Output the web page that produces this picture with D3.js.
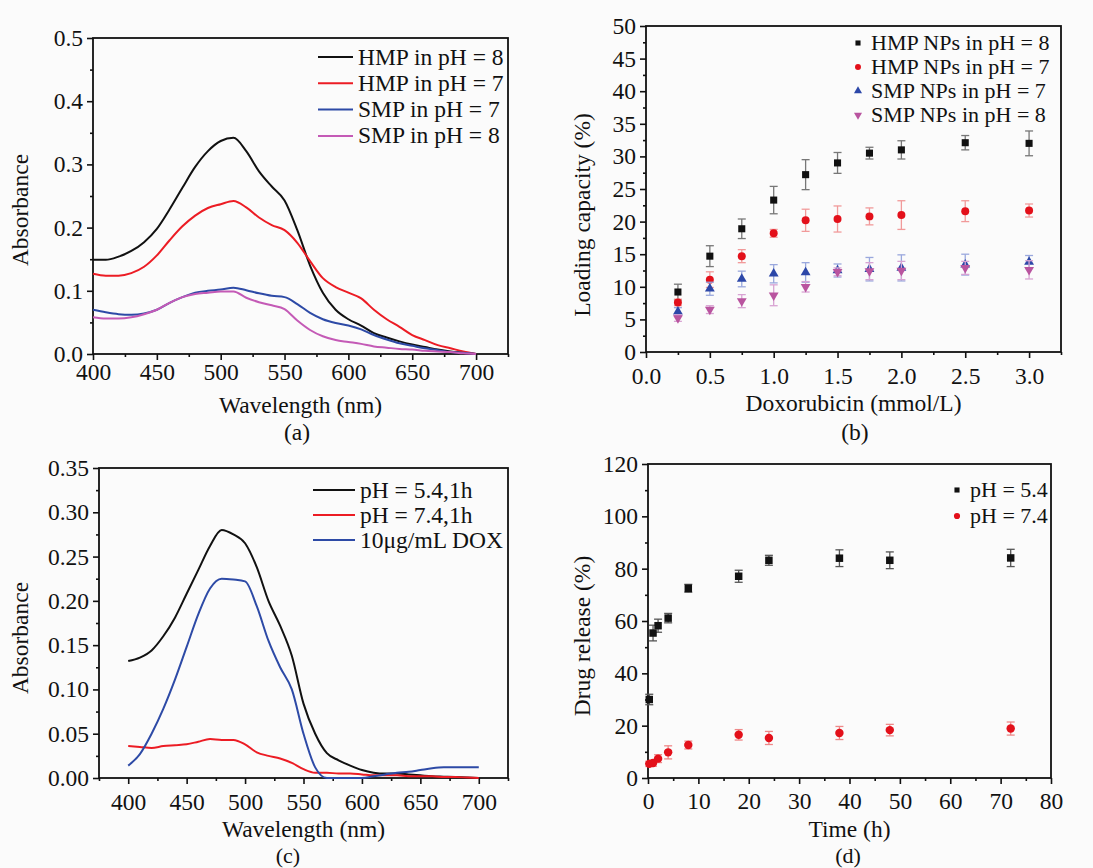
<!DOCTYPE html>
<html>
<head>
<meta charset="utf-8">
<script src="https://cdn.jsdelivr.net/npm/d3@7/dist/d3.min.js"></script>
<style>
  body { margin: 0; background: #fbfbfb; }
  svg { display: block; }
</style>
</head>
<body>
<svg id="chart" width="1093" height="868"></svg>
<script>
// ---- (a) UV-vis of HMP / SMP ----
const waveA = [400,410,420,430,440,450,460,470,480,490,500,510,520,530,540,550,560,570,580,590,600,610,620,630,640,650,660,670,680,690,700];
const absHmpPh8 = [0.149,0.149,0.154,0.163,0.177,0.198,0.229,0.263,0.296,0.321,0.337,0.342,0.321,0.289,0.265,0.243,0.196,0.140,0.097,0.070,0.055,0.045,0.033,0.026,0.020,0.015,0.011,0.007,0.004,0.002,0.000];
const absHmpPh7 = [0.127,0.124,0.124,0.128,0.138,0.156,0.180,0.202,0.219,0.231,0.237,0.242,0.232,0.216,0.204,0.196,0.176,0.147,0.120,0.106,0.097,0.088,0.070,0.055,0.043,0.030,0.022,0.014,0.009,0.004,0.000];
const absSmpPh7 = [0.070,0.066,0.063,0.062,0.064,0.070,0.081,0.090,0.097,0.100,0.102,0.105,0.101,0.096,0.092,0.090,0.079,0.065,0.055,0.049,0.045,0.039,0.030,0.023,0.017,0.013,0.009,0.006,0.003,0.002,0.000];
const absSmpPh8 = [0.058,0.056,0.056,0.058,0.063,0.070,0.081,0.090,0.095,0.097,0.099,0.099,0.089,0.082,0.077,0.071,0.053,0.038,0.028,0.022,0.019,0.016,0.012,0.010,0.008,0.007,0.005,0.004,0.003,0.001,0.000];
const legendA = ["HMP in pH = 8", "HMP in pH = 7", "SMP in pH = 7", "SMP in pH = 8"];
const xTicksA = [400,450,500,550,600,650,700];
const yTicksA = [0,0.1,0.2,0.3,0.4,0.5];

// ---- (b) loading capacity ----
const doxConc = [0.25,0.5,0.75,1,1.25,1.5,1.75,2,2.5,3];
const loadHmpPh8 = [9.2,14.7,18.9,23.3,27.2,29.0,30.5,31.0,32.1,32.0];
const errHmpPh8 = [1.2,1.6,1.5,2.1,2.3,1.6,0.9,1.4,1.1,1.9];
const loadHmpPh7 = [7.6,11.1,14.7,18.2,20.2,20.4,20.8,21.0,21.6,21.7];
const errHmpPh7 = [0.5,1.2,1.0,0.6,1.7,2.0,1.3,2.2,1.6,1.0];
const loadSmpPh7 = [6.2,9.7,11.2,12.0,12.2,12.5,12.7,12.9,13.4,13.8];
const errSmpPh7 = [0.6,1.0,1.2,1.4,1.5,1.0,1.8,2.0,1.6,1.0];
const loadSmpPh8 = [5.2,6.5,7.8,8.7,10.0,12.3,12.4,12.5,12.9,12.6];
const errSmpPh8 = [0.5,0.6,1.0,1.6,0.8,0.6,1.3,1.4,1.0,1.4];
const legendB = ["HMP NPs in pH = 8", "HMP NPs in pH = 7", "SMP NPs in pH = 7", "SMP NPs in pH = 8"];
const xTicksB = [0,0.5,1,1.5,2,2.5,3];
const yTicksB = [0,5,10,15,20,25,30,35,40,45,50];

// ---- (c) release spectra ----
const waveC = [400,410,420,430,440,450,460,470,480,490,500,510,520,530,540,550,560,570,580,590,600,610,620,630,640,650,660,670,680,690,700];
const absPh54 = [0.132,0.136,0.144,0.160,0.181,0.208,0.235,0.262,0.280,0.275,0.265,0.238,0.200,0.172,0.138,0.084,0.050,0.028,0.020,0.014,0.009,0.006,0.005,0.005,0.004,0.003,0.002,0.0015,0.001,0.0005,0.000];
const absPh74 = [0.036,0.035,0.034,0.036,0.037,0.038,0.041,0.044,0.043,0.043,0.038,0.029,0.025,0.022,0.017,0.010,0.006,0.006,0.005,0.005,0.004,0.003,0.003,0.003,0.002,0.002,0.002,0.001,0.001,0.0005,0.000];
const absDox = [0.014,0.027,0.050,0.078,0.111,0.148,0.185,0.214,0.225,0.224,0.222,0.194,0.155,0.125,0.100,0.050,0.012,0.000,0.000,0.000,0.000,0.002,0.004,0.006,0.007,0.009,0.011,0.012,0.012,0.012,0.012];
const legendC = ["pH = 5.4,1h", "pH = 7.4,1h", "10\u03bcg/mL DOX"];
const xTicksC = [400,450,500,550,600,650,700];
const yTicksC = [0,0.05,0.10,0.15,0.20,0.25,0.30,0.35];

// ---- (d) drug release ----
const timeH = [0.25,1,2,4,8,18,24,38,48,72];
const releasePh54 = [30.0,55.4,58.2,61.1,72.5,77.1,83.2,84.0,83.2,84.1];
const errPh54 = [2.0,3.0,2.5,1.8,1.5,2.3,1.9,3.2,3.2,3.3];
const releasePh74 = [5.4,5.7,7.4,9.8,12.6,16.5,15.3,17.2,18.3,18.9];
const errPh74 = [1.0,1.2,1.5,2.5,1.5,2.0,2.5,2.5,2.2,2.5];
const legendD = ["pH = 5.4", "pH = 7.4"];
const xTicksD = [0,10,20,30,40,50,60,70,80];
const yTicksD = [0,20,40,60,80,100,120];

const fontFamily = "'Liberation Serif', 'Times New Roman', serif";
const fontSize = 23.5;
const svg = d3.select("#chart");

// minor ticks sit halfway between majors, inside the domain
function minorTicks(major, domain) {
    const step = major[1] - major[0];
    const out = [];
    for (let v = major[0] - step / 2; v <= domain[1] + 1e-9; v += step) {
        if (v >= domain[0] - 1e-9) out.push(v);
    }
    return out;
}

function styleAxis(sel) {
    sel.select(".domain").remove();
    sel.selectAll("line").attr("stroke", "#111").attr("stroke-width", 1.6);
    sel.selectAll("text")
        .attr("font-family", fontFamily)
        .attr("font-size", fontSize)
        .attr("fill", "#111");
}

function drawPanel(box, opts) {
    const x = d3.scaleLinear().domain(opts.xDomain).range([box.left, box.right]);
    const y = d3.scaleLinear().domain(opts.yDomain).range([box.bottom, box.top]);
    const g = svg.append("g");

    g.append("g")
        .attr("transform", `translate(0,${box.bottom})`)
        .call(d3.axisBottom(x).tickValues(minorTicks(opts.xTicks, opts.xDomain)).tickSize(3).tickFormat(""))
        .call(styleAxis);
    g.append("g")
        .attr("transform", `translate(0,${box.bottom})`)
        .call(d3.axisBottom(x).tickValues(opts.xTicks).tickSize(6).tickPadding(opts.xPad).tickFormat(d3.format(opts.xFmt)))
        .call(styleAxis);
    g.append("g")
        .attr("transform", `translate(${box.left},0)`)
        .call(d3.axisLeft(y).tickValues(minorTicks(opts.yTicks, opts.yDomain)).tickSize(3).tickFormat(""))
        .call(styleAxis);
    g.append("g")
        .attr("transform", `translate(${box.left},0)`)
        .call(d3.axisLeft(y).tickValues(opts.yTicks).tickSize(6).tickPadding(4).tickFormat(d3.format(opts.yFmt)))
        .call(styleAxis);

    // box frame
    g.append("rect")
        .attr("x", box.left)
        .attr("y", box.top)
        .attr("width", box.right - box.left)
        .attr("height", box.bottom - box.top)
        .attr("fill", "none")
        .attr("stroke", "#111")
        .attr("stroke-width", 1.8);

    // axis titles and panel letter
    g.append("text")
        .attr("x", (box.left + box.right) / 2)
        .attr("y", opts.xTitleY)
        .attr("text-anchor", "middle")
        .attr("font-family", fontFamily)
        .attr("font-size", fontSize)
        .attr("fill", "#111")
        .text(opts.xTitle);
    g.append("text")
        .attr("transform", `translate(${opts.yTitleX},${opts.yTitleCy}) rotate(-90)`)
        .attr("text-anchor", "middle")
        .attr("font-family", fontFamily)
        .attr("font-size", fontSize)
        .attr("fill", "#111")
        .text(opts.yTitle);
    g.append("text")
        .attr("x", opts.tagX)
        .attr("y", opts.tagY)
        .attr("text-anchor", "middle")
        .attr("font-family", fontFamily)
        .attr("font-size", opts.tagSize || fontSize)
        .attr("fill", "#111")
        .text(opts.tag);

    return { g, x, y };
}

function drawLines(panel, xs, series, colors) {
    const line = d3.line()
        .x((d, i) => panel.x(xs[i]))
        .y(d => panel.y(d))
        .curve(d3.curveMonotoneX);
    series.forEach((s, k) => {
        panel.g.append("path")
            .attr("d", line(s))
            .attr("fill", "none")
            .attr("stroke", colors[k])
            .attr("stroke-width", 2);
    });
}

function drawLineLegend(panel, labels, colors, x0, y0, step, len) {
    labels.forEach((label, k) => {
        const yy = y0 + k * step;
        panel.g.append("line")
            .attr("x1", x0).attr("x2", x0 + len)
            .attr("y1", yy).attr("y2", yy)
            .attr("stroke", colors[k])
            .attr("stroke-width", 2);
        panel.g.append("text")
            .attr("x", x0 + len + 5)
            .attr("y", yy + 7.5)
            .attr("font-family", fontFamily)
            .attr("font-size", fontSize)
            .attr("fill", "#111")
            .text(label);
    });
}

function symbolPath(type, size) {
    return d3.symbol().type(type).size(size)();
}

function drawScatter(panel, xs, values, errors, style) {
    const grp = panel.g.append("g");
    const cap = 4;
    values.forEach((v, i) => {
        const px = panel.x(xs[i]);
        const lo = panel.y(v - errors[i]);
        const hi = panel.y(v + errors[i]);
        grp.append("line").attr("x1", px).attr("x2", px).attr("y1", lo).attr("y2", hi)
            .attr("stroke", style.errColor).attr("stroke-width", 1.3);
        grp.append("line").attr("x1", px - cap).attr("x2", px + cap).attr("y1", lo).attr("y2", lo)
            .attr("stroke", style.errColor).attr("stroke-width", 1.3);
        grp.append("line").attr("x1", px - cap).attr("x2", px + cap).attr("y1", hi).attr("y2", hi)
            .attr("stroke", style.errColor).attr("stroke-width", 1.3);
    });
    values.forEach((v, i) => {
        grp.append("path")
            .attr("d", symbolPath(style.type, style.size))
            .attr("transform", `translate(${panel.x(xs[i])},${panel.y(v)}) rotate(${style.rotate || 0})`)
            .attr("fill", style.color);
    });
}

function drawMarkerLegend(panel, labels, styles, x0, y0, step, size) {
    labels.forEach((label, k) => {
        const yy = y0 + k * step;
        panel.g.append("path")
            .attr("d", symbolPath(styles[k].type, styles[k].legendSize))
            .attr("transform", `translate(${x0},${yy}) rotate(${styles[k].rotate || 0})`)
            .attr("fill", styles[k].color);
        panel.g.append("text")
            .attr("x", x0 + 13)
            .attr("y", yy + 7)
            .attr("font-family", fontFamily)
            .attr("font-size", size)
            .attr("fill", "#111")
            .text(label);
    });
}

const lineColors = ["#111111", "#ec1c24", "#2d4aa6", "#c45ab6"];

// (a)
const panelA = drawPanel({ left: 93, right: 508, top: 38, bottom: 354 }, {
    xDomain: [400, 725], yDomain: [0, 0.5],
    xTicks: xTicksA, yTicks: yTicksA, xFmt: "d", yFmt: ".1f", xPad: 3,
    xTitle: "Wavelength (nm)", xTitleY: 413,
    yTitle: "Absorbance", yTitleX: 28, yTitleCy: 210,
    tag: "(a)", tagX: 297, tagY: 440
});
drawLines(panelA, waveA, [absHmpPh8, absHmpPh7, absSmpPh7, absSmpPh8], lineColors);
drawLineLegend(panelA, legendA, lineColors, 318, 57, 26.3, 35);

// (b)
const stylesB = [
    { type: d3.symbolSquare, size: 50, legendSize: 26, color: "#111111", errColor: "#777777" },
    { type: d3.symbolCircle, size: 50, legendSize: 28, color: "#e3101a", errColor: "#f19a9a" },
    { type: d3.symbolTriangle, size: 42, legendSize: 28, color: "#2c47a8", errColor: "#9aa8dd" },
    { type: d3.symbolTriangle, size: 42, legendSize: 28, color: "#b9549f", errColor: "#d8a3d3", rotate: 180 }
];
const panelB = drawPanel({ left: 646, right: 1061, top: 26, bottom: 352 }, {
    xDomain: [0, 3.25], yDomain: [0, 50],
    xTicks: xTicksB, yTicks: yTicksB, xFmt: ".1f", yFmt: "d", xPad: 9,
    xTitle: "Doxorubicin (mmol/L)", xTitleY: 411,
    yTitle: "Loading capacity (%)", yTitleX: 590, yTitleCy: 215,
    tag: "(b)", tagX: 855, tagY: 440
});
drawScatter(panelB, doxConc, loadHmpPh8, errHmpPh8, stylesB[0]);
drawScatter(panelB, doxConc, loadHmpPh7, errHmpPh7, stylesB[1]);
drawScatter(panelB, doxConc, loadSmpPh7, errSmpPh7, stylesB[2]);
drawScatter(panelB, doxConc, loadSmpPh8, errSmpPh8, stylesB[3]);
drawMarkerLegend(panelB, legendB, stylesB, 858, 43, 24, 22);

// (c)
const panelC = drawPanel({ left: 99, right: 508, top: 468, bottom: 778 }, {
    xDomain: [375, 725], yDomain: [0, 0.35],
    xTicks: xTicksC, yTicks: yTicksC, xFmt: "d", yFmt: ".2f", xPad: 9,
    xTitle: "Wavelength (nm)", xTitleY: 837,
    yTitle: "Absorbance", yTitleX: 28, yTitleCy: 638,
    tag: "(c)", tagX: 288, tagY: 863, tagSize: 22
});
const colorsC = ["#111111", "#ec1c24", "#2d4aa6"];
drawLines(panelC, waveC, [absPh54, absPh74, absDox], colorsC);
drawLineLegend(panelC, legendC, colorsC, 313, 490, 25, 42);

// (d)
const stylesD = [
    { type: d3.symbolSquare, size: 56, legendSize: 26, color: "#111111", errColor: "#555555" },
    { type: d3.symbolCircle, size: 56, legendSize: 30, color: "#e3101a", errColor: "#ee8888" }
];
const panelD = drawPanel({ left: 648, right: 1051, top: 464, bottom: 778 }, {
    xDomain: [0, 80], yDomain: [0, 120],
    xTicks: xTicksD, yTicks: yTicksD, xFmt: "d", yFmt: "d", xPad: 8,
    xTitle: "Time (h)", xTitleY: 837,
    yTitle: "Drug release (%)", yTitleX: 590, yTitleCy: 636,
    tag: "(d)", tagX: 848, tagY: 863, tagSize: 22
});
drawScatter(panelD, timeH, releasePh54, errPh54, stylesD[0]);
drawScatter(panelD, timeH, releasePh74, errPh74, stylesD[1]);
drawMarkerLegend(panelD, legendD, stylesD, 957, 490, 26, 22);
</script>
</body>
</html>
